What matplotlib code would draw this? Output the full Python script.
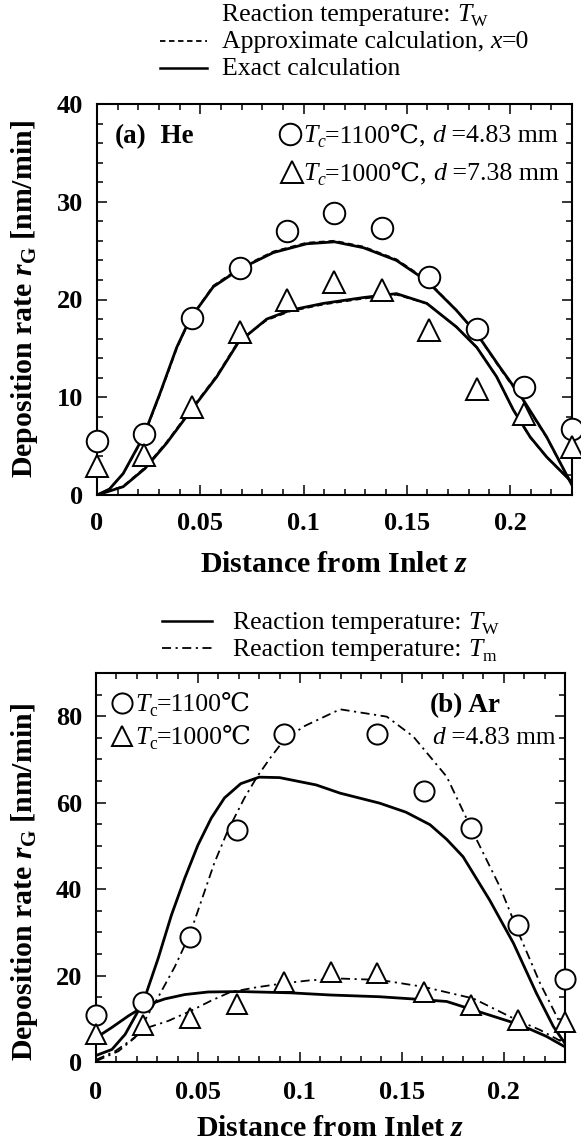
import matplotlib
matplotlib.use('Agg')
import matplotlib.pyplot as plt
from matplotlib.lines import Line2D
from matplotlib.ticker import MultipleLocator, FixedLocator, FixedFormatter

W, H = 581, 1144
SERIF = ['Liberation Serif', 'DejaVu Serif', 'Noto Sans CJK JP']
plt.rcParams['font.family'] = SERIF
plt.rcParams['mathtext.fontset'] = 'custom'
plt.rcParams['mathtext.rm'] = 'Liberation Serif:weight=bold'
plt.rcParams['mathtext.it'] = 'Liberation Serif:style=italic:weight=bold'
plt.rcParams['mathtext.bf'] = 'Liberation Serif:weight=bold'

# ---------------- data ----------------
x_ticks = [0, 0.05, 0.1, 0.15, 0.2]
x_tick_labels = ['0', '0.05', '0.1', '0.15', '0.2']
z_meas = [0, 0.023, 0.046, 0.069, 0.092, 0.115, 0.138, 0.161, 0.184, 0.207, 0.23]

# (a) He
a_circ = [5.5, 6.2, 18.1, 23.2, 27.0, 28.8, 27.3, 22.3, 17.0, 11.0, 6.8]
a_tri = [3.0, 4.1, 9.0, 16.7, 19.9, 21.8, 21.0, 16.9, 10.8, 8.3, 4.9]

a_circ_z = [0, 0.006, 0.0127, 0.0224, 0.0305, 0.0386, 0.045, 0.0563, 0.069, 0.0854,
            0.1015, 0.115, 0.129, 0.145, 0.1597, 0.174, 0.1839, 0.195, 0.2065, 0.2177, 0.23]
a_circ_exact = [0, 0.6, 2.2, 5.95, 10.4, 15.1, 18.0, 21.3, 23.1, 24.8,
                25.7, 25.9, 25.3, 24.0, 21.9, 18.9, 16.5, 13.1, 9.7, 5.95, 1.0]
a_circ_approx = [0, 0.6, 2.2, 5.9, 10.3, 15.0, 18.0, 21.4, 23.2, 24.9,
                 25.8, 26.0, 25.4, 24.1, 22.0, 18.9, 16.5, 13.0, 9.6, 5.9, 1.0]

a_tri_z = [0, 0.0127, 0.0232, 0.0337, 0.045, 0.058, 0.0684, 0.0822, 0.0935, 0.1096,
           0.129, 0.145, 0.1597, 0.174, 0.1839, 0.1935, 0.2016, 0.2097, 0.2177, 0.23]
a_tri_exact = [0, 0.85, 2.7, 5.3, 8.5, 12.1, 15.6, 18.0, 18.9, 19.6,
               20.2, 20.6, 19.6, 17.2, 15.1, 12.1, 8.7, 5.95, 3.9, 1.3]
a_tri_approx = [0, 0.9, 2.8, 5.4, 8.6, 12.2, 15.7, 17.9, 18.8, 19.5,
                20.1, 20.5, 19.6, 17.2, 15.1, 12.1, 8.7, 5.9, 3.9, 1.3]

# (b) Ar
b_circ_z = [0, 0.023, 0.046, 0.069, 0.092, 0.138, 0.161, 0.184, 0.207, 0.23]
b_circ = [10.8, 13.9, 28.9, 53.7, 75.8, 76.0, 62.7, 54.1, 31.7, 19.2]
b_tri = [6.4, 8.5, 10.1, 13.4, 18.6, 20.9, 20.7, 16.1, 13.1, 9.7, 9.3]

b_circ_tw_z = [0, 0.0078, 0.0143, 0.0208, 0.024, 0.0305, 0.037, 0.0435, 0.050, 0.0565,
               0.063, 0.071, 0.080, 0.090, 0.108, 0.1197, 0.139, 0.152, 0.1638, 0.172,
               0.180, 0.193, 0.2047, 0.216, 0.2243, 0.23]
b_circ_tw = [1.5, 2.9, 6.4, 11.9, 15.0, 24.0, 34.0, 42.5, 50.2, 56.4,
             61.1, 64.4, 65.9, 65.8, 64.1, 62.2, 59.9, 57.8, 54.9, 51.5,
             47.5, 37.5, 27.5, 15.9, 8.2, 4.3]

b_circ_tm_z = [0, 0.011, 0.019, 0.0305, 0.0386, 0.046, 0.050, 0.058, 0.0646, 0.0727,
               0.079, 0.0857, 0.0914, 0.1017, 0.1197, 0.1426, 0.1556, 0.172, 0.1867,
               0.198, 0.208, 0.2178, 0.226, 0.23]
b_circ_tm = [0.2, 2.5, 5.6, 15.0, 22.0, 29.5, 35.0, 46.0, 53.5, 61.0,
             66.0, 70.5, 74.0, 77.6, 81.6, 79.9, 75.3, 66.0, 51.4,
             40.6, 29.0, 18.2, 10.5, 6.6]

b_tri_tw_z = [0, 0.0078, 0.016, 0.024, 0.0338, 0.0435, 0.055, 0.071, 0.0955, 0.115,
              0.139, 0.155, 0.172, 0.188, 0.208, 0.221, 0.23]
b_tri_tw = [5.6, 8.0, 10.7, 13.0, 14.6, 15.6, 16.2, 16.3, 16.0, 15.5,
            15.1, 14.6, 14.0, 11.6, 8.6, 5.9, 3.5]

b_tri_tm_z = [0, 0.0094, 0.0175, 0.0256, 0.0354, 0.0468, 0.0565, 0.066, 0.079, 0.092,
              0.105, 0.12, 0.139, 0.1605, 0.185, 0.2047, 0.2178, 0.23]
b_tri_tm = [0.5, 2.5, 5.2, 8.0, 9.5, 11.9, 14.2, 16.2, 17.3, 18.2,
            18.9, 19.3, 19.0, 17.4, 14.7, 10.1, 7.4, 4.3]

# ---------------- figure ----------------
fig = plt.figure(figsize=(W / 100, H / 100), dpi=100)
renderer = fig.canvas.get_renderer()


def fpos(x, y):
    return x / W, 1 - y / H


def rect(l, t, r, b):
    return [l / W, 1 - b / H, (r - l) / W, (b - t) / H]


def rich(x, y, parts, size=18, weight='normal'):
    """Draw a sequence of (text, style) pieces on a common baseline (pixel coords)."""
    for s, style in parts:
        kw = dict(fontsize=size, family=SERIF, fontweight=weight)
        dy = 0
        if 'it' in style:
            kw['style'] = 'italic'
        if 'sub' in style:
            kw['fontsize'] = size * 0.68
            dy = size * 0.2 * 100 / 72
        t = fig.text(*fpos(x, y + dy), s, va='baseline', ha='left', **kw)
        x += t.get_window_extent(renderer).width
    return x


def handle(x0, x1, y, **kw):
    fig.add_artist(Line2D([x0 / W, x1 / W], [1 - y / H, 1 - y / H],
                          transform=fig.transFigure, color='black', **kw))


def marker(x, y, m, ms):
    fig.add_artist(Line2D([x / W], [1 - y / H], transform=fig.transFigure,
                          marker=m, ms=ms, mfc='white', mec='black', mew=1.4,
                          ls='none'))


def style_axes(ax, ymax, ymajor, yminor, xpad):
    ax.set_xlim(0, 0.23)
    ax.set_ylim(0, ymax)
    ax.xaxis.set_major_locator(FixedLocator(x_ticks))
    ax.xaxis.set_major_formatter(FixedFormatter(x_tick_labels))
    ax.xaxis.set_minor_locator(MultipleLocator(0.01))
    ax.yaxis.set_major_locator(MultipleLocator(ymajor))
    ax.yaxis.set_minor_locator(MultipleLocator(yminor))
    ax.tick_params(which='both', direction='in', top=True, right=True,
                   width=1.1, labelsize=19)
    ax.tick_params(which='major', length=7)
    ax.tick_params(which='minor', length=4)
    ax.tick_params(axis='x', pad=xpad)
    ax.tick_params(axis='y', pad=10)
    for lab in ax.get_xticklabels() + ax.get_yticklabels():
        lab.set_fontweight('bold')
    for sp in ax.spines.values():
        sp.set_linewidth(1.5)


ax1 = fig.add_axes(rect(97, 104, 572, 495))
ax2 = fig.add_axes(rect(96, 673, 565, 1062))

# ---- panel (a)
style_axes(ax1, 40, 10, 2, 12)
ax1.plot(a_circ_z, a_circ_approx, color='black', lw=1.4, ls=(0, (3, 2)))
ax1.plot(a_tri_z, a_tri_approx, color='black', lw=1.4, ls=(0, (3, 2)))
ax1.plot(a_circ_z, a_circ_exact, color='black', lw=2.0)
ax1.plot(a_tri_z, a_tri_exact, color='black', lw=2.0)
ax1.plot(z_meas, a_circ, ls='none', marker='o', ms=15.5, mfc='white', mec='black',
         mew=1.4, clip_on=False, zorder=5)
ax1.plot(z_meas, a_tri, ls='none', marker='^', ms=16, mfc='white', mec='black',
         mew=1.4, clip_on=False, zorder=5)

# ---- panel (b)
style_axes(ax2, 90, 20, 5, 14)
dashdot = (0, (5, 2.5, 1.2, 2.5))
ax2.plot(b_circ_tm_z, b_circ_tm, color='black', lw=1.3, ls=dashdot)
ax2.plot(b_tri_tm_z, b_tri_tm, color='black', lw=1.3, ls=dashdot)
ax2.plot(b_circ_tw_z, b_circ_tw, color='black', lw=2.0)
ax2.plot(b_tri_tw_z, b_tri_tw, color='black', lw=2.0)
ax2.plot(b_circ_z, b_circ, ls='none', marker='o', ms=14.5, mfc='white', mec='black',
         mew=1.4, clip_on=False, zorder=5)
ax2.plot(z_meas, b_tri, ls='none', marker='^', ms=15, mfc='white', mec='black',
         mew=1.4, clip_on=False, zorder=5)

# axis labels
for ax, ycen in ((ax1, 0.5), (ax2, 0.463)):
    ax.set_ylabel(r'Deposition rate $r_{\mathrm{G}}$ [nm/min]', fontsize=21.5,
                  fontweight='bold')
    ax.yaxis.set_label_coords(-0.152, ycen)
    ax.yaxis.label.set_va('center')
    ax.set_xlabel(r'Distance from Inlet $z$', fontsize=21.5, fontweight='bold')
    ax.xaxis.label.set_va('center')
ax1.xaxis.set_label_coords(0.5, -0.179)
ax2.xaxis.set_label_coords(0.5, -0.172)

# ---- top legend (a)
rich(222, 21, [('Reaction temperature: ', ''), ('T', 'it'), ('W', 'sub')], size=18.5)
handle(160, 207, 41, lw=1.3, ls=(0, (3, 2)))
rich(222, 48, [('Approximate calculation, ', ''), ('x', 'it'), ('=0', '')], size=18.5)
handle(160, 207, 68, lw=1.8)
rich(222, 75, [('Exact calculation', '')], size=18.5)

# in-axes text (a)
rich(115, 143, [('(a)', ''), ('  He', '')], size=19.5, weight='bold')
marker(290, 134, 'o', 15.5)
rich(303, 142, [('T', 'it'), ('c', 'itsub'), ('=1100℃, ', ''), ('d', 'it'),
                (' =4.83 mm', '')], size=18.6)
marker(292, 172, '^', 16)
rich(303, 180, [('T', 'it'), ('c', 'itsub'), ('=1000℃, ', ''), ('d', 'it'),
                (' =7.38 mm', '')], size=18.6)

# ---- legend (b)
handle(162, 212, 621, lw=1.8)
rich(233, 629, [('Reaction temperature: ', ''), ('T', 'it'), ('W', 'sub')], size=18.5)
handle(162, 212, 648, lw=1.3, ls=dashdot)
rich(233, 656, [('Reaction temperature: ', ''), ('T', 'it'), ('m', 'sub')], size=18.5)

# in-axes text (b)
marker(122, 703, 'o', 14.5)
rich(135, 711, [('T', 'it'), ('c', 'sub'), ('=1100℃', '')], size=18.6)
marker(122, 736, '^', 15)
rich(135, 744, [('T', 'it'), ('c', 'sub'), ('=1000℃', '')], size=18.6)
rich(430, 712, [('(b)', ''), (' Ar', '')], size=19.5, weight='bold')
rich(432, 744, [('d', 'it'), (' =4.83 mm', '')], size=18.3)

fig.savefig('out.png', dpi=100)
